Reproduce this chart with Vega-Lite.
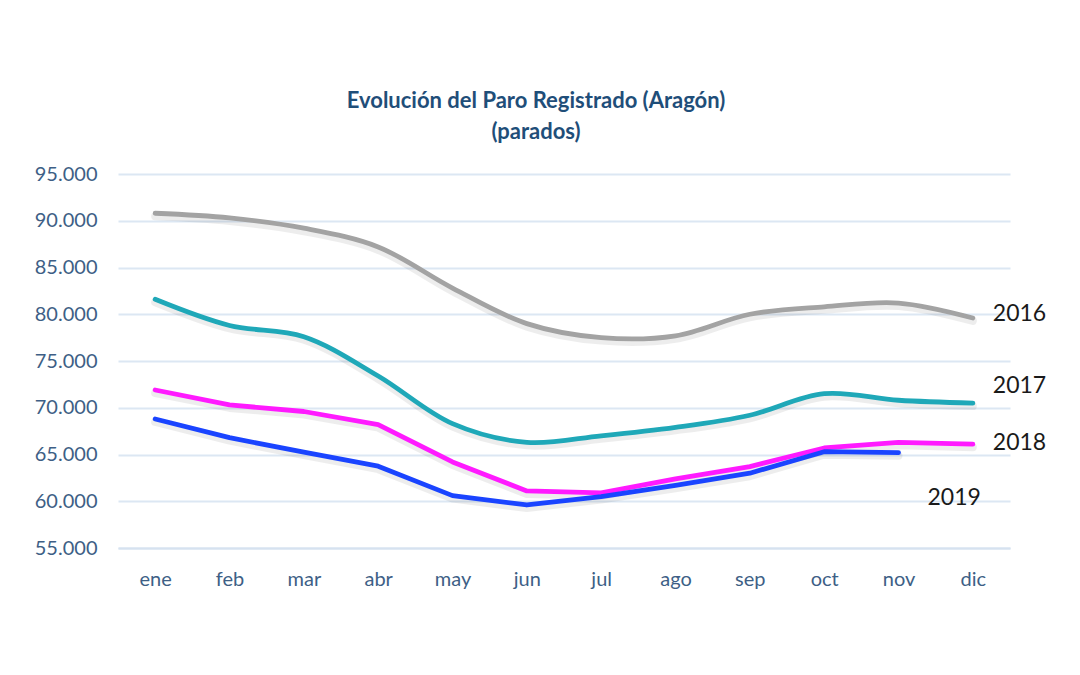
{
  "$schema": "https://vega.github.io/schema/vega-lite/v6.json",
  "autosize": "none",
  "width": 892,
  "height": 374,
  "padding": {"left": 118, "top": 174, "right": 70, "bottom": 127},
  "background": "#ffffff",
  "config": {
    "locale": {"number": {"decimal": ",", "thousands": ".", "grouping": [3], "currency": ["", " €"]}},
    "view": {"stroke": null},
    "font": "Lato"
  },
  "title": {
    "text": ["Evolución del Paro Registrado (Aragón)", "(parados)"],
    "font": "Lato",
    "fontSize": 22,
    "fontWeight": "bold",
    "color": "#1f4e79",
    "anchor": "middle",
    "frame": "group",
    "dx": -28,
    "lineHeight": 31,
    "offset": 20
  },
  "datasets": {
    "paro": [
      {"anio": "2016", "mes": "ene", "parados": 90800},
      {"anio": "2016", "mes": "feb", "parados": 90300},
      {"anio": "2016", "mes": "mar", "parados": 89200},
      {"anio": "2016", "mes": "abr", "parados": 87200},
      {"anio": "2016", "mes": "may", "parados": 82800},
      {"anio": "2016", "mes": "jun", "parados": 79000},
      {"anio": "2016", "mes": "jul", "parados": 77500},
      {"anio": "2016", "mes": "ago", "parados": 77700},
      {"anio": "2016", "mes": "sep", "parados": 80000},
      {"anio": "2016", "mes": "oct", "parados": 80800},
      {"anio": "2016", "mes": "nov", "parados": 81200},
      {"anio": "2016", "mes": "dic", "parados": 79600},
      {"anio": "2017", "mes": "ene", "parados": 81600},
      {"anio": "2017", "mes": "feb", "parados": 78800},
      {"anio": "2017", "mes": "mar", "parados": 77600},
      {"anio": "2017", "mes": "abr", "parados": 73400},
      {"anio": "2017", "mes": "may", "parados": 68300},
      {"anio": "2017", "mes": "jun", "parados": 66300},
      {"anio": "2017", "mes": "jul", "parados": 67000},
      {"anio": "2017", "mes": "ago", "parados": 67900},
      {"anio": "2017", "mes": "sep", "parados": 69200},
      {"anio": "2017", "mes": "oct", "parados": 71500},
      {"anio": "2017", "mes": "nov", "parados": 70800},
      {"anio": "2017", "mes": "dic", "parados": 70500},
      {"anio": "2018", "mes": "ene", "parados": 71900},
      {"anio": "2018", "mes": "feb", "parados": 70300},
      {"anio": "2018", "mes": "mar", "parados": 69600},
      {"anio": "2018", "mes": "abr", "parados": 68200},
      {"anio": "2018", "mes": "may", "parados": 64200},
      {"anio": "2018", "mes": "jun", "parados": 61100},
      {"anio": "2018", "mes": "jul", "parados": 60900},
      {"anio": "2018", "mes": "ago", "parados": 62400},
      {"anio": "2018", "mes": "sep", "parados": 63700},
      {"anio": "2018", "mes": "oct", "parados": 65700},
      {"anio": "2018", "mes": "nov", "parados": 66300},
      {"anio": "2018", "mes": "dic", "parados": 66100},
      {"anio": "2019", "mes": "ene", "parados": 68800},
      {"anio": "2019", "mes": "feb", "parados": 66800},
      {"anio": "2019", "mes": "mar", "parados": 65250},
      {"anio": "2019", "mes": "abr", "parados": 63750},
      {"anio": "2019", "mes": "may", "parados": 60600},
      {"anio": "2019", "mes": "jun", "parados": 59600},
      {"anio": "2019", "mes": "jul", "parados": 60500},
      {"anio": "2019", "mes": "ago", "parados": 61700},
      {"anio": "2019", "mes": "sep", "parados": 63000},
      {"anio": "2019", "mes": "oct", "parados": 65300},
      {"anio": "2019", "mes": "nov", "parados": 65200}
    ],
    "etiquetas": [
      {"anio": "2016", "mes": "dic", "parados": 80000},
      {"anio": "2017", "mes": "dic", "parados": 72300},
      {"anio": "2018", "mes": "dic", "parados": 66200},
      {"anio": "2019", "mes": "nov", "parados": 60400}
    ]
  },
  "encoding": {
    "x": {
      "field": "mes",
      "type": "ordinal",
      "sort": ["ene", "feb", "mar", "abr", "may", "jun", "jul", "ago", "sep", "oct", "nov", "dic"],
      "scale": {"type": "point", "padding": 0.5},
      "axis": {
        "title": null,
        "labelAngle": 0,
        "labelFont": "Lato",
        "labelFontSize": 20,
        "labelColor": "#3e5f86",
        "labelPadding": 21,
        "ticks": false,
        "grid": false,
        "domain": true,
        "domainColor": "#d6e2f0",
        "domainWidth": 2
      }
    },
    "y": {
      "field": "parados",
      "type": "quantitative",
      "scale": {"domain": [55000, 95000], "nice": false, "zero": false},
      "axis": {
        "title": null,
        "values": [55000, 60000, 65000, 70000, 75000, 80000, 85000, 90000, 95000],
        "format": ",d",
        "labelFont": "Lato",
        "labelFontSize": 20,
        "labelColor": "#3e5f86",
        "labelPadding": 21,
        "ticks": false,
        "domain": false,
        "grid": true,
        "gridColor": "#dce7f3",
        "gridWidth": 2
      }
    },
    "color": {
      "field": "anio",
      "type": "nominal",
      "scale": {"domain": ["2016", "2017", "2018", "2019"], "range": ["#a3a3a3", "#1fa8b8", "#ff1aff", "#1a44ff"]},
      "legend": null
    }
  },
  "layer": [
    {
      "data": {"name": "paro"},
      "transform": [{"filter": "datum.anio == '2016' || datum.anio == '2017'"}],
      "mark": {"type": "line", "interpolate": "catmull-rom", "strokeWidth": 8, "strokeCap": "round", "opacity": 0.07},
      "encoding": {"color": {"value": "#000000"}, "detail": {"field": "anio"}, "yOffset": {"value": 3}}
    },
    {
      "data": {"name": "paro"},
      "transform": [{"filter": "datum.anio == '2018' || datum.anio == '2019'"}],
      "mark": {"type": "line", "interpolate": "linear", "strokeWidth": 8, "strokeCap": "round", "strokeJoin": "round", "opacity": 0.07},
      "encoding": {"color": {"value": "#000000"}, "detail": {"field": "anio"}, "yOffset": {"value": 3}}
    },
    {
      "data": {"name": "paro"},
      "transform": [{"filter": "datum.anio == '2016' || datum.anio == '2017'"}],
      "mark": {"type": "line", "interpolate": "catmull-rom", "strokeWidth": 4.8, "strokeCap": "round"}
    },
    {
      "data": {"name": "paro"},
      "transform": [{"filter": "datum.anio == '2018' || datum.anio == '2019'"}],
      "mark": {"type": "line", "interpolate": "linear", "strokeWidth": 4.8, "strokeCap": "round", "strokeJoin": "round"}
    },
    {
      "data": {"name": "etiquetas"},
      "transform": [{"filter": "datum.anio != '2019'"}],
      "mark": {"type": "text", "align": "left", "baseline": "middle", "dx": 20, "font": "Lato", "fontSize": 23},
      "encoding": {"text": {"field": "anio"}, "color": {"value": "#1a1a1a"}}
    },
    {
      "data": {"name": "etiquetas"},
      "transform": [{"filter": "datum.anio == '2019'"}],
      "mark": {"type": "text", "align": "left", "baseline": "middle", "dx": 29, "font": "Lato", "fontSize": 23},
      "encoding": {"text": {"field": "anio"}, "color": {"value": "#1a1a1a"}}
    }
  ]
}
